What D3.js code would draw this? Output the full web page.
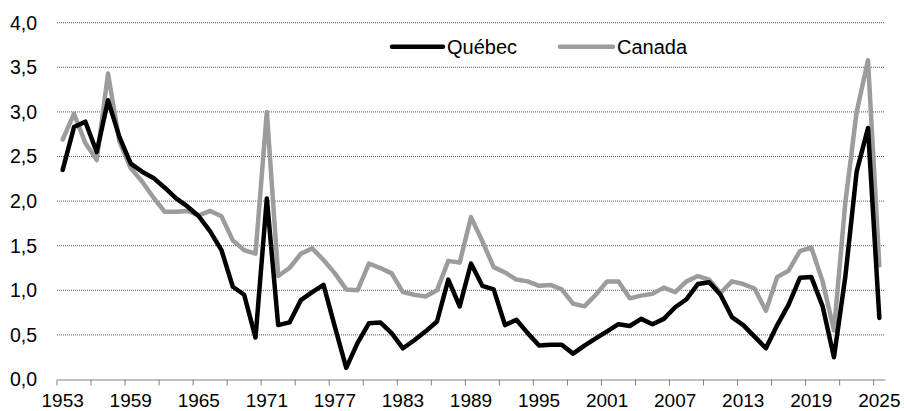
<!DOCTYPE html>
<html>
<head>
<meta charset="utf-8">
<script src="https://cdn.jsdelivr.net/npm/d3@7"></script>
<style>
  body { margin: 0; background: #fff; }
  text { font-family: "Liberation Sans", Arial, sans-serif; fill: #000; }
</style>
</head>
<body>
<div class="container"></div>
<script>
// ----- DATA -----
const years = d3.range(1953, 2026);

const quebec = [
  2.35, 2.83, 2.89, 2.55, 3.13, 2.72, 2.42, 2.33, 2.26, 2.15,
  2.03, 1.94, 1.83, 1.66, 1.45, 1.04, 0.95, 0.47, 2.03, 0.61,
  0.64, 0.89, 0.98, 1.06, 0.59, 0.13, 0.41, 0.63, 0.64, 0.52,
  0.35, 0.44, 0.54, 0.65, 1.12, 0.82, 1.30, 1.05, 1.01, 0.61,
  0.67, 0.52, 0.38, 0.39, 0.39, 0.29, 0.38, 0.46, 0.54, 0.62,
  0.60, 0.68, 0.62, 0.68, 0.81, 0.90, 1.07, 1.09, 0.95, 0.70,
  0.61, 0.48, 0.35, 0.61, 0.84, 1.14, 1.15, 0.82, 0.25, 1.15,
  2.33, 2.82, 0.69
];

const canada = [
  2.69, 2.98, 2.65, 2.46, 3.43, 2.67, 2.37, 2.22, 2.04, 1.88,
  1.88, 1.89, 1.84, 1.89, 1.83, 1.56, 1.45, 1.41, 3.00, 1.16,
  1.25, 1.41, 1.47, 1.34, 1.19, 1.01, 1.00, 1.30, 1.25, 1.19,
  0.98, 0.95, 0.93, 1.00, 1.33, 1.31, 1.82, 1.55, 1.26, 1.20,
  1.12, 1.10, 1.05, 1.06, 1.01, 0.85, 0.82, 0.95, 1.10, 1.10,
  0.91, 0.94, 0.96, 1.03, 0.98, 1.10, 1.16, 1.12, 0.97, 1.10,
  1.07, 1.02, 0.77, 1.15, 1.22, 1.44, 1.48, 1.10, 0.55, 1.98,
  3.00, 3.58, 1.28
];

const yTicks = [0, 0.5, 1, 1.5, 2, 2.5, 3, 3.5, 4];
const tickYears = d3.range(1953, 2026, 3);   // tick marks every 3 years
const labelYears = d3.range(1953, 2026, 6);  // labels every 6 years

const seriesNames = ["Québec", "Canada"];
const seriesColors = ["#000000", "#9c9c9c"];

// ----- SIZES -----
const w = 904;
const h = 411;
const padL = 57, padR = 885, padT = 22.7, padB = 379.5;

// ----- SCALES -----
const xScale = d3.scaleBand()
  .domain(years)
  .range([padL, padR])
  .paddingInner(0)
  .paddingOuter(0);

const yScale = d3.scaleLinear()
  .domain([0, 4])
  .range([padB, padT]);

const fmt = v => d3.format(".1f")(v).replace(".", ",");

// ----- SVG -----
const svg = d3.select(".container")
  .append("svg")
  .attr("width", w)
  .attr("height", h);

// gridlines (dotted)
svg.append("g")
  .selectAll("line")
  .data(yTicks.filter(d => d > 0))
  .enter()
  .append("line")
  .attr("x1", padL)
  .attr("x2", padR)
  .attr("y1", d => yScale(d))
  .attr("y2", d => yScale(d))
  .attr("stroke", "#555")
  .attr("stroke-width", 1)
  .attr("stroke-dasharray", "1,1");

// y labels
svg.append("g")
  .selectAll("text")
  .data(yTicks)
  .enter()
  .append("text")
  .attr("x", 37)
  .attr("y", d => yScale(d))
  .attr("dy", "0.35em")
  .attr("text-anchor", "end")
  .style("font-size", "19.5px")
  .text(fmt);

// x axis: ticks between categories, labels on categories
const xAxis = d3.axisBottom(d3.scaleLinear().domain([0, 1]).range([padL, padR]))
  .tickValues([])
  .tickSizeOuter(0);

const gx = svg.append("g")
  .attr("transform", "translate(0," + padB + ")")
  .call(xAxis);
gx.select(".domain").attr("stroke", "#808080");

gx.selectAll(".tk")
  .data(tickYears)
  .enter()
  .append("line")
  .attr("class", "tk")
  .attr("x1", d => xScale(d))
  .attr("x2", d => xScale(d))
  .attr("y1", 0)
  .attr("y2", 6)
  .attr("stroke", "#808080");

gx.selectAll(".lb")
  .data(labelYears)
  .enter()
  .append("text")
  .attr("class", "lb")
  .attr("x", d => xScale(d) + xScale.bandwidth() / 2)
  .attr("y", 27.5)
  .attr("text-anchor", "middle")
  .style("font-size", "19px")
  .text(d => d);

// ----- LINES -----
const line = d3.line()
  .x((d, i) => xScale(years[i]) + xScale.bandwidth() / 2)
  .y(d => yScale(d));

svg.append("path")
  .datum(canada)
  .attr("d", line)
  .attr("fill", "none")
  .attr("stroke", seriesColors[1])
  .attr("stroke-width", 4.5)
  .attr("stroke-linejoin", "round")
  .attr("stroke-linecap", "round");

svg.append("path")
  .datum(quebec)
  .attr("d", line)
  .attr("fill", "none")
  .attr("stroke", seriesColors[0])
  .attr("stroke-width", 4.5)
  .attr("stroke-linejoin", "round")
  .attr("stroke-linecap", "round");

// ----- LEGEND -----
const legendX = [392, 560];
const legend = svg.append("g")
  .selectAll("g")
  .data(seriesNames)
  .enter()
  .append("g")
  .attr("transform", (d, i) => "translate(" + legendX[i] + ",46.7)");

legend.append("line")
  .attr("x1", 0)
  .attr("x2", (d, i) => i === 0 ? 51 : 53)
  .attr("stroke", (d, i) => seriesColors[i])
  .attr("stroke-width", 4.5)
  .attr("stroke-linecap", "round");

legend.append("text")
  .attr("x", (d, i) => i === 0 ? 55 : 57)
  .attr("dy", "0.35em")
  .style("font-size", "20px")
  .text(d => d);
</script>
</body>
</html>
